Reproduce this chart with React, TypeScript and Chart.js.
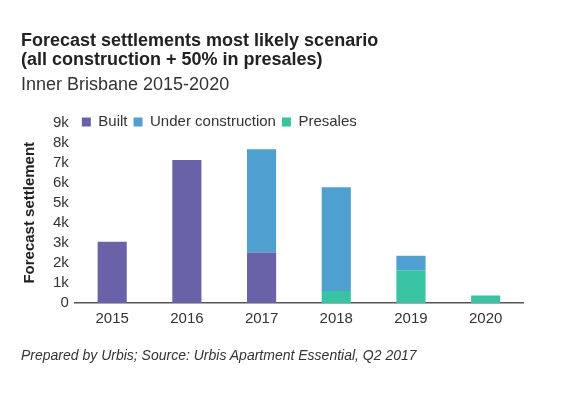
import React, { useEffect, useRef } from "react";
import { Chart, registerables } from "chart.js";

Chart.register(...registerables);

const years = ["2015", "2016", "2017", "2018", "2019", "2020"];
const built = [3050, 7130, 2520, 0, 0, 0];
const presales = [0, 0, 0, 600, 1630, 380];
const underConstruction = [0, 0, 5150, 5170, 730, 0];
const legendOrder = ["Built", "Under construction", "Presales"];
const yTicks = [0, 1000, 2000, 3000, 4000, 5000, 6000, 7000, 8000, 9000];

const FONT = "'Liberation Sans', Arial, sans-serif";

// Let the legend take no layout space, then place it beside the top tick.
const legendPlacer = {
  id: "legendPlacer",
  beforeLayout(chart: any) {
    const lg = chart.legend;
    if (!lg || lg.__patched) return;
    const origFit = lg.fit.bind(lg);
    lg.fit = function () {
      origFit();
      this.__realHeight = this.height;
      this.height = 0;
    };
    lg.__patched = true;
  },
  afterLayout(chart: any) {
    const lg = chart.legend;
    if (!lg) return;
    const pad = lg.options.labels.padding;
    const fs = lg.options.labels.font.size;
    const w = lg.right - lg.left;
    lg.left = chart.chartArea.left + 7 - pad;
    lg.right = lg.left + w;
    const h = lg.__realHeight || 30;
    lg.top = chart.chartArea.top - 0.5 - pad - fs / 2;
    lg.height = h;
    lg.bottom = lg.top + h;
  },
};

export default function App() {
  const ref = useRef<HTMLCanvasElement>(null);
  useEffect(() => {
    if (!ref.current) return;
    const chart = new Chart(ref.current, {
      type: "bar",
      data: {
        labels: years,
        datasets: [
          { label: "Built", data: built, backgroundColor: "#6962a8" },
          { label: "Presales", data: presales, backgroundColor: "#38c4a2" },
          { label: "Under construction", data: underConstruction, backgroundColor: "#4f9fd1" },
        ],
      },
      options: {
        animation: false,
        responsive: false,
        maintainAspectRatio: false,
        layout: { padding: { left: 21, top: 0, right: 47, bottom: 63 } },
        datasets: { bar: { barPercentage: 0.39, categoryPercentage: 1 } },
        plugins: {
          title: {
            display: true,
            text: ["Forecast settlements most likely scenario", "(all construction + 50% in presales)"],
            align: "start",
            color: "#222",
            font: { family: FONT, size: 18, weight: "bold", lineHeight: 1.08 },
            padding: { top: 31, bottom: 0 },
          },
          subtitle: {
            display: true,
            text: "Inner Brisbane 2015-2020",
            align: "start",
            color: "#333",
            font: { family: FONT, size: 18, weight: "normal", lineHeight: 1.2 },
            padding: { top: 4, bottom: 27 },
          },
          legend: {
            position: "top",
            align: "start",
            labels: {
              boxWidth: 9,
              boxHeight: 9,
              padding: 6,
              color: "#333",
              font: { family: FONT, size: 15 },
              sort: (a: any, b: any) => legendOrder.indexOf(a.text) - legendOrder.indexOf(b.text),
            },
          },
          tooltip: { enabled: false },
        },
        scales: {
          x: {
            stacked: true,
            grid: { display: false, drawTicks: false },
            border: { display: true, color: "#555", width: 1.5 },
            ticks: { color: "#333", padding: 7, font: { family: FONT, size: 15 } },
          },
          y: {
            stacked: true,
            min: 0,
            max: 9000,
            afterBuildTicks: (axis: any) => {
              axis.ticks = yTicks.map((v) => ({ value: v }));
            },
            grid: { display: false, drawTicks: false },
            border: { display: false },
            ticks: {
              color: "#333",
              padding: 6,
              autoSkip: false,
              font: { family: FONT, size: 15 },
              callback: (v: any) => (Number(v) === 0 ? "0" : Number(v) / 1000 + "k"),
            },
            title: {
              display: true,
              text: "Forecast settlement",
              color: "#222",
              font: { family: FONT, size: 15, weight: "bold" },
              padding: { top: 0, bottom: 8 },
            },
          },
        },
      },
      plugins: [legendPlacer],
    });
    return () => chart.destroy();
  }, []);

  return (
    <div style={{ position: "absolute", left: 0, top: 0, width: 570, height: 398, background: "#fff" }}>
      <canvas ref={ref} width={570} height={398} style={{ display: "block" }} />
      <div
        style={{
          position: "absolute",
          left: 21,
          top: 347,
          fontFamily: FONT,
          fontStyle: "italic",
          fontSize: 14,
          color: "#333",
          whiteSpace: "nowrap",
        }}
      >
        Prepared by Urbis; Source: Urbis Apartment Essential, Q2 2017
      </div>
    </div>
  );
}
